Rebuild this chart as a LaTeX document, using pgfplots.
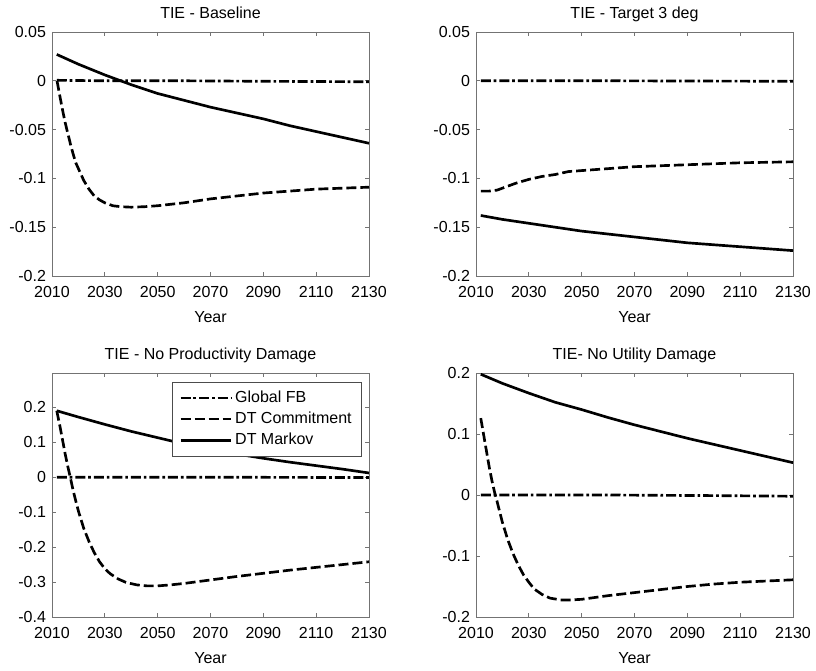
\documentclass[border=0pt]{standalone}
\usepackage{fontspec}
\setmainfont{Liberation Sans}
\usepackage{pgfplots}
\pgfplotsset{compat=1.18}
\usepackage{pgfplotstable}

% ---------- data ----------
\pgfplotstableread{
year v
2011.8 0.0005
2030 0.0
2060 0.0
2090 -0.0005
2130 -0.001
}\baseFB
\pgfplotstableread{
year v
2011.9 0.000
2013 -0.016
2014 -0.030
2015 -0.043
2016 -0.054
2017 -0.065
2018 -0.075
2019 -0.084
2020 -0.090
2022 -0.102
2024 -0.111
2026 -0.118
2028 -0.122
2030 -0.125
2033 -0.128
2036 -0.129
2040 -0.1295
2045 -0.129
2050 -0.128
2060 -0.125
2070 -0.121
2080 -0.118
2090 -0.115
2100 -0.113
2110 -0.111
2120 -0.110
2130 -0.109
}\baseDTC
\pgfplotstableread{
year v
2011.8 0.027
2020 0.017
2030 0.006
2040 -0.004
2050 -0.013
2060 -0.020
2070 -0.027
2080 -0.033
2090 -0.039
2100 -0.046
2110 -0.052
2120 -0.058
2130 -0.064
}\baseDTM

\pgfplotstableread{
year v
2011.8 0.0
2060 0.0
2130 -0.0005
}\tgtFB
\pgfplotstableread{
year v
2011.8 -0.113
2015 -0.113
2018 -0.112
2020 -0.110
2025 -0.105
2030 -0.101
2035 -0.098
2040 -0.096
2045 -0.093
2050 -0.092
2060 -0.090
2070 -0.088
2080 -0.087
2090 -0.086
2100 -0.085
2110 -0.084
2120 -0.0835
2130 -0.083
}\tgtDTC
\pgfplotstableread{
year v
2011.8 -0.138
2020 -0.142
2030 -0.146
2040 -0.150
2050 -0.154
2060 -0.157
2070 -0.160
2080 -0.163
2090 -0.166
2100 -0.168
2110 -0.170
2120 -0.172
2130 -0.174
}\tgtDTM

\pgfplotstableread{
year v
2011.8 0.0
2060 0.0
2130 -0.001
}\npFB
\pgfplotstableread{
year v
2011.8 0.190
2013 0.146
2014 0.106
2015 0.066
2016 0.030
2017 -0.003
2018 -0.038
2019 -0.068
2020 -0.097
2022 -0.146
2024 -0.184
2026 -0.216
2028 -0.242
2030 -0.262
2032 -0.276
2035 -0.291
2038 -0.301
2042 -0.308
2046 -0.311
2050 -0.311
2055 -0.308
2060 -0.304
2070 -0.294
2080 -0.284
2090 -0.275
2100 -0.266
2110 -0.258
2120 -0.250
2130 -0.242
}\npDTC
\pgfplotstableread{
year v
2011.8 0.190
2020 0.172
2030 0.151
2040 0.131
2050 0.113
2060 0.095
2070 0.079
2080 0.066
2090 0.054
2100 0.043
2110 0.033
2120 0.023
2130 0.012
}\npDTM

\pgfplotstableread{
year v
2011.8 0.0
2060 0.0
2100 -0.001
2130 -0.002
}\nuFB
\pgfplotstableread{
year v
2011.8 0.126
2013 0.096
2014 0.071
2015 0.046
2016 0.024
2017 0.005
2018 -0.011
2019 -0.028
2020 -0.045
2022 -0.073
2024 -0.096
2026 -0.115
2028 -0.131
2030 -0.143
2032 -0.154
2035 -0.163
2038 -0.169
2042 -0.172
2046 -0.172
2050 -0.171
2055 -0.168
2060 -0.165
2070 -0.160
2080 -0.155
2090 -0.150
2100 -0.146
2110 -0.143
2120 -0.141
2130 -0.139
}\nuDTC
\pgfplotstableread{
year v
2011.8 0.198
2020 0.183
2030 0.167
2040 0.152
2050 0.140
2060 0.127
2070 0.115
2080 0.104
2090 0.093
2100 0.083
2110 0.073
2120 0.063
2130 0.053
}\nuDTM

\newcommand{\tfont}{\fontsize{12}{14}\selectfont}

\pgfplotsset{
  matfig/.style={
    scale only axis,
    width=237.75pt, height=183pt,
    xmin=2010, xmax=2130,
    xtick={2010,2030,2050,2070,2090,2110,2130},
    xticklabels={2010,2030,2050,2070,2090,2110,2130},
    tick align=inside,
    major tick length=3pt,
    axis line style={black!55, line width=0.6pt},
    tick style={black!55, line width=0.6pt},
    tick label style={font=\tfont, text=black},
    xticklabel style={anchor=base, yshift=-16.3pt},
    yticklabel style={xshift=-1pt},
    title style={font=\tfont, at={(axis description cs:0.5,1)}, anchor=base, yshift=4pt},
    xlabel style={font=\tfont, at={(axis description cs:0.5,0)}, anchor=base, yshift=-34.5pt},
    xlabel={Year},
    legend style={font=\tfont, draw=black!70, line width=0.6pt,
      at={(axis description cs:0.976,0.965)}, anchor=north east,
      inner xsep=5pt, inner ysep=5pt,
      row sep=1.6pt},
    legend cell align=left,
    legend image code/.code={\draw[#1, line width=2pt] (0pt,0pt) -- (38pt,0pt);},
  },
  fbline/.style={black, line width=2pt, dash pattern=on 7.5pt off 2.2pt on 2pt off 2.2pt},
  dtcline/.style={black, line width=2pt, dash pattern=on 7.5pt off 3pt},
  dtmline/.style={black, line width=2pt},
}

\begin{document}
\begin{tikzpicture}
\useasboundingbox (0,0) rectangle (612pt,-502.5pt);

\begin{axis}[matfig, at={(39pt,-24pt)}, anchor=north west,
  title={TIE - Baseline},
  ymin=-0.2, ymax=0.05,
  ytick={-0.2,-0.15,-0.1,-0.05,0,0.05},
  yticklabels={-0.2,-0.15,-0.1,-0.05,0,0.05}]
\addplot[fbline] table[x=year,y=v] {\baseFB};
\addplot[dtcline] table[x=year,y=v] {\baseDTC};
\addplot[dtmline] table[x=year,y=v] {\baseDTM};
\end{axis}

\begin{axis}[matfig, at={(357pt,-24pt)}, anchor=north west,
  title={TIE - Target 3 deg},
  ymin=-0.2, ymax=0.05,
  ytick={-0.2,-0.15,-0.1,-0.05,0,0.05},
  yticklabels={-0.2,-0.15,-0.1,-0.05,0,0.05}]
\addplot[fbline] table[x=year,y=v] {\tgtFB};
\addplot[dtcline] table[x=year,y=v] {\tgtDTC};
\addplot[dtmline] table[x=year,y=v] {\tgtDTM};
\end{axis}

\begin{axis}[matfig, at={(39pt,-279.75pt)}, anchor=north west,
  title={TIE - No Productivity Damage},
  ymin=-0.4, ymax=0.298,
  ytick={-0.4,-0.3,-0.2,-0.1,0,0.1,0.2},
  yticklabels={-0.4,-0.3,-0.2,-0.1,0,0.1,0.2}]
\addplot[fbline] table[x=year,y=v] {\npFB};
\addlegendentry{Global FB}
\addplot[dtcline] table[x=year,y=v] {\npDTC};
\addlegendentry{DT Commitment\hspace{3pt}}
\addplot[dtmline] table[x=year,y=v] {\npDTM};
\addlegendentry{DT Markov}
\end{axis}

\begin{axis}[matfig, at={(357pt,-279.75pt)}, anchor=north west,
  title={TIE- No Utility Damage},
  ymin=-0.2, ymax=0.2,
  ytick={-0.2,-0.1,0,0.1,0.2},
  yticklabels={-0.2,-0.1,0,0.1,0.2}]
\addplot[fbline] table[x=year,y=v] {\nuFB};
\addplot[dtcline] table[x=year,y=v] {\nuDTC};
\addplot[dtmline] table[x=year,y=v] {\nuDTM};
\end{axis}
\end{tikzpicture}
\end{document}
